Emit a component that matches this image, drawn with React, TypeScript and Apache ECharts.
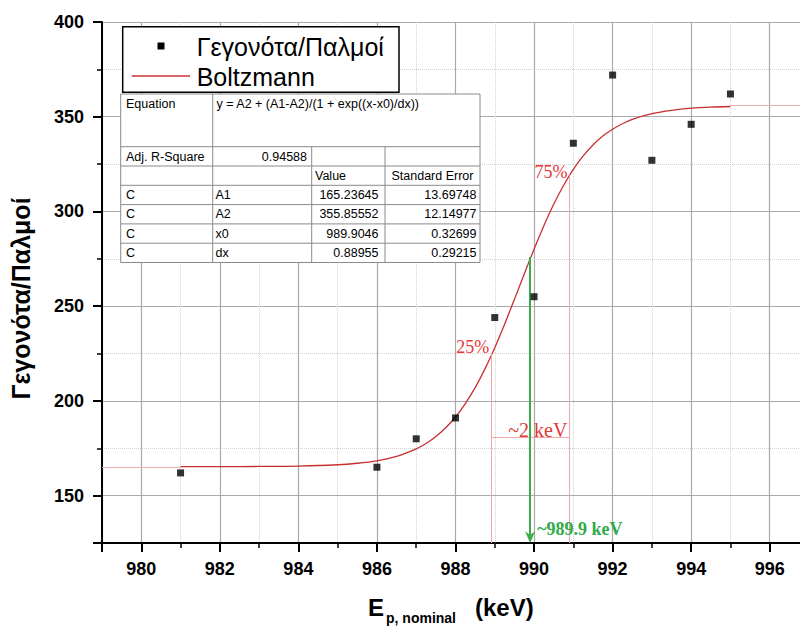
import React, { useEffect, useRef } from 'react';
import * as echarts from 'echarts';

// ---- data ----
const seriesNames = ['Γεγονότα/Παλμοί', 'Boltzmann'];
const pointX = [981, 986, 987, 988, 989, 990, 991, 992, 993, 994, 995];
const pointY = [162, 165, 180, 191, 244, 255, 336, 372, 327, 346, 362];

const fitX = [981, 982, 983, 984, 985, 985.5, 986, 986.5, 987, 987.25, 987.5, 987.75, 988, 988.25, 988.5, 988.75, 989, 989.25, 989.5, 989.75, 990, 990.25, 990.5, 990.75, 991, 991.25, 991.5, 991.75, 992, 992.25, 992.5, 993, 993.5, 994, 994.5, 995];
const fitY = [165.3, 165.3, 165.4, 165.6, 166.3, 167.1, 168.4, 170.7, 174.7, 177.5, 181.2, 185.8, 191.5, 198.6, 207.0, 216.9, 228.1, 240.5, 253.6, 267.0, 280.1, 292.5, 303.8, 313.7, 322.2, 329.3, 335.1, 339.8, 343.4, 346.3, 348.6, 351.6, 353.4, 354.5, 355.1, 355.4];

const asymLow = 165.24;
const asymHigh = 355.86;

const equationText = 'y = A2 + (A1-A2)/(1 + exp((x-x0)/dx))';
const adjR2 = '0.94588';
const colHeaders = ['Value', 'Standard Error'];
const paramNames = ['A1', 'A2', 'x0', 'dx'];
const paramValues = ['165.23645', '355.85552', '989.9046', '0.88955'];
const paramErrors = ['13.69748', '12.14977', '0.32699', '0.29215'];

const p25X = 988.9;
const p75X = 990.9;
const p25Top = 225;
const p75Top = 319;
const widthLineY = 181;
const centerX = 989.9;
const centerTop = 276;
const centerBottom = 129;
const arrowHeadY = 128;

const annoTexts = ['75%', '25%', '~2 keV'];
const annoX = [990.85, 988.86, 990.85];
const annoY = [321, 228.5, 184.6];
const annoSizes = [18, 18, 20];
const centerText = '~989.9 keV';
const centerTextPos = [990.08, 132.5];

const SANS = '"Liberation Sans", Arial, Helvetica, sans-serif';
const SERIF = '"Liberation Serif", "Times New Roman", serif';
const GREEN = '#3aad4a';

function buildTable() {
  const L = 120.7, R = 480, T = 94;
  const rowY = [146.7, 166, 185.3, 204.6, 223.9, 243.2, 262.5];
  const c1 = 212.7, c2 = 311.7, c3 = 385;
  const stroke = '#8a8a8a';
  const els: any[] = [];
  els.push({ type: 'rect', z: 100, shape: { x: L, y: T, width: R - L, height: rowY[6] - T }, style: { fill: '#fff', stroke, lineWidth: 1 } });
  for (let i = 0; i < 6; i++) {
    els.push({ type: 'line', z: 101, shape: { x1: L, y1: rowY[i], x2: R, y2: rowY[i] }, style: { stroke, lineWidth: 1 } });
  }
  els.push({ type: 'line', z: 101, shape: { x1: c1, y1: T, x2: c1, y2: rowY[6] }, style: { stroke, lineWidth: 1 } });
  els.push({ type: 'line', z: 101, shape: { x1: c2, y1: rowY[0], x2: c2, y2: rowY[6] }, style: { stroke, lineWidth: 1 } });
  els.push({ type: 'line', z: 101, shape: { x1: c3, y1: rowY[0], x2: c3, y2: rowY[6] }, style: { stroke, lineWidth: 1 } });
  const font = '12.5px ' + SANS;
  const txt = (text: string, x: number, y: number, align: string) => ({
    type: 'text', z: 102, x, y,
    style: { text, font, fill: '#000', align, verticalAlign: 'middle' },
  });
  els.push(txt('Equation', 126, 104.3, 'left'));
  els.push(txt(equationText, 216.5, 104.3, 'left'));
  els.push(txt('Adj. R-Square', 126, 156.5, 'left'));
  els.push(txt(adjR2, 307, 156.5, 'right'));
  els.push(txt(colHeaders[0], 315, 175.7, 'left'));
  els.push(txt(colHeaders[1], 391.5, 175.7, 'left'));
  for (let i = 0; i < paramNames.length; i++) {
    const cy = (rowY[i + 2] + rowY[i + 3]) / 2;
    els.push(txt('C', 126, cy, 'left'));
    els.push(txt(paramNames[i], 215.5, cy, 'left'));
    els.push(txt(paramValues[i], 378.5, cy, 'right'));
    els.push(txt(paramErrors[i], 476.5, cy, 'right'));
  }
  return els;
}

function buildLegend() {
  return [
    { type: 'rect', z: 100, shape: { x: 122.7, y: 26.7, width: 276.3, height: 65.6 }, style: { fill: '#fff', stroke: '#000', lineWidth: 1.5 } },
    { type: 'rect', z: 101, shape: { x: 157.5, y: 42.5, width: 7, height: 7 }, style: { fill: '#000' } },
    { type: 'text', z: 101, x: 196.7, y: 46.5, style: { text: seriesNames[0], font: '25px ' + SANS, fill: '#000', align: 'left', verticalAlign: 'middle' } },
    { type: 'line', z: 101, shape: { x1: 131.7, y1: 76, x2: 190, y2: 76 }, style: { stroke: '#cc3333', lineWidth: 1.3 } },
    { type: 'text', z: 101, x: 196.7, y: 77, style: { text: seriesNames[1], font: '25px ' + SANS, fill: '#000', align: 'left', verticalAlign: 'middle' } },
  ];
}

function buildXTitle() {
  return [
    { type: 'text', z: 101, x: 368, y: 607, style: { text: 'E', font: 'bold 24px ' + SANS, fill: '#000', align: 'left', verticalAlign: 'middle' } },
    { type: 'text', z: 101, x: 386, y: 618, style: { text: 'p, nominal', font: 'bold 14px ' + SANS, fill: '#000', align: 'left', verticalAlign: 'middle' } },
    { type: 'text', z: 101, x: 475, y: 607, style: { text: '(keV)', font: 'bold 24px ' + SANS, fill: '#000', align: 'left', verticalAlign: 'middle' } },
  ];
}

export default function App() {
  const ref = useRef<HTMLDivElement>(null);
  useEffect(() => {
    if (!ref.current) return;
    const chart = echarts.init(ref.current, undefined, { renderer: 'svg' });
    const pinkLine = { color: '#f0a8a8', width: 1, type: 'solid' };
    const option: any = {
      animation: false,
      backgroundColor: '#fff',
      grid: { left: 101, right: 0, top: 22, bottom: 86, containLabel: false },
      xAxis: {
        type: 'value',
        min: 979,
        max: 997,
        splitNumber: 9,
        axisLine: { show: true, onZero: false, lineStyle: { color: '#000', width: 2 } },
        axisTick: { show: true, length: 9, lineStyle: { color: '#000', width: 2 } },
        minorTick: { show: true, splitNumber: 2, length: 5, lineStyle: { color: '#000', width: 1.5 } },
        splitLine: { show: true, lineStyle: { color: '#aaaaaa', width: 1.2 } },
        minorSplitLine: { show: true, lineStyle: { color: '#d2d2d2', width: 1, type: 'dotted' } },
        axisLabel: { showMinLabel: false, showMaxLabel: false, margin: 17, color: '#000', fontSize: 18, fontWeight: 'bold', fontFamily: SANS },
      },
      yAxis: {
        type: 'value',
        min: 125,
        max: 400,
        splitNumber: 5,
        name: seriesNames[0],
        nameLocation: 'middle',
        nameGap: 69,
        nameRotate: 90,
        nameTextStyle: { color: '#000', fontSize: 25, fontWeight: 'bold', fontFamily: SANS, padding: [0, 32, 0, 0] },
        axisLine: { show: true, onZero: false, lineStyle: { color: '#000', width: 2 } },
        axisTick: { show: true, length: 9, lineStyle: { color: '#000', width: 2 } },
        minorTick: { show: true, splitNumber: 2, length: 5, lineStyle: { color: '#000', width: 1.5 } },
        splitLine: { show: true, lineStyle: { color: '#aaaaaa', width: 1.2 } },
        minorSplitLine: { show: true, lineStyle: { color: '#d2d2d2', width: 1, type: 'dotted' } },
        axisLabel: { showMinLabel: false, margin: 18, color: '#000', fontSize: 18, fontWeight: 'bold', fontFamily: SANS },
      },
      series: [
        {
          name: seriesNames[1],
          type: 'line',
          data: fitX.map((x, i) => [x, fitY[i]]),
          showSymbol: false,
          smooth: 0.3,
          lineStyle: { color: '#c83030', width: 1.3 },
          z: 3,
          markLine: {
            silent: true,
            symbol: ['none', 'none'],
            label: { show: false },
            lineStyle: { color: '#e8b0b0', width: 1, type: 'solid' },
            data: [
              [{ coord: [979, asymLow] }, { coord: [fitX[0], asymLow] }],
              [{ coord: [fitX[fitX.length - 1], asymHigh] }, { coord: [997, asymHigh] }],
            ],
          },
        },
        {
          name: 'annotations',
          type: 'line',
          data: [],
          z: 4,
          markLine: {
            silent: true,
            symbol: ['none', 'none'],
            label: { show: false },
            lineStyle: pinkLine,
            data: [
              [{ coord: [p25X, 125] }, { coord: [p25X, p25Top] }],
              [{ coord: [p75X, 125] }, { coord: [p75X, p75Top] }],
              [{ coord: [p25X, widthLineY] }, { coord: [p75X, widthLineY] }],
            ],
          },
          markPoint: {
            silent: true,
            symbol: 'circle',
            symbolSize: 0,
            data: [
              ...annoTexts.map((t, i) => ({
                coord: [annoX[i], annoY[i]],
                value: t,
                label: { show: true, position: [0, 0], formatter: t, align: 'right', verticalAlign: 'middle', color: '#e53838', fontSize: annoSizes[i], fontFamily: SERIF },
              })),
              {
                coord: centerTextPos,
                value: centerText,
                label: { show: true, position: [0, 0], formatter: centerText, align: 'left', verticalAlign: 'middle', color: '#2eaa48', fontSize: 18, fontWeight: 'bold', fontFamily: SERIF },
              },
            ],
          },
        },
        {
          name: 'arrow',
          type: 'line',
          data: [],
          z: 5,
          markLine: {
            silent: true,
            symbol: ['none', 'none'],
            label: { show: false },
            lineStyle: { color: GREEN, width: 2, type: 'solid' },
            data: [[{ coord: [centerX, centerTop] }, { coord: [centerX, centerBottom] }]],
          },
          markPoint: {
            silent: true,
            data: [
              {
                coord: [centerX, arrowHeadY],
                symbol: 'path://M0,0 L5,10 L10,0 L5,3 Z',
                symbolSize: [10, 12],
                itemStyle: { color: GREEN },
                label: { show: false },
              },
            ],
          },
        },
        {
          name: seriesNames[0],
          type: 'scatter',
          data: pointX.map((x, i) => [x, pointY[i]]),
          symbol: 'rect',
          symbolSize: 7,
          itemStyle: { color: '#000' },
          z: 6,
        },
      ],
      graphic: [...buildLegend(), ...buildTable(), ...buildXTitle()],
    };
    chart.setOption(option);
    return () => chart.dispose();
  }, []);
  return (
    <div style={{ position: 'absolute', left: 0, top: 0, width: 800, height: 629, overflow: 'hidden' }}>
      <div ref={ref} style={{ position: 'absolute', left: 0, top: 0, width: 809, height: 629 }} />
    </div>
  );
}
